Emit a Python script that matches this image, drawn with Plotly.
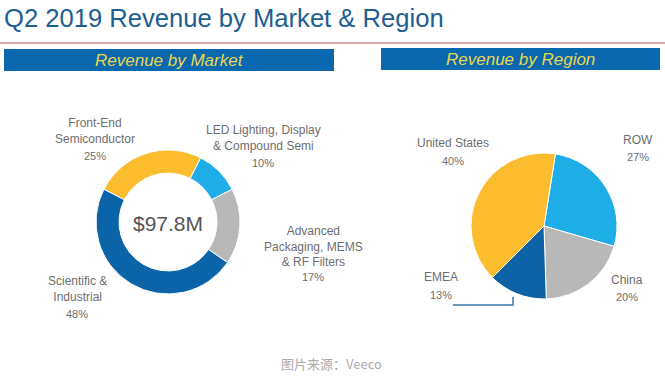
import plotly.graph_objects as go

W, H = 665, 376

title_text = "Q2 2019 Revenue by Market & Region"
market_header = "Revenue by Market"
region_header = "Revenue by Region"
total_label = "$97.8M"
source_text = "图片来源：Veeco"

market_labels = ["Front-End<br>Semiconductor", "LED Lighting, Display<br>& Compound Semi",
                 "Advanced<br>Packaging, MEMS<br>& RF Filters", "Scientific &<br>Industrial"]
market_values = [25, 10, 17, 48]
market_colors = ["#FBBC2D", "#1EADE6", "#B8B8B8", "#0B63A8"]

region_labels = ["ROW", "China", "EMEA", "United States"]
region_values = [27, 20, 13, 40]
region_colors = ["#1EADE6", "#B8B8B8", "#0E62A6", "#FBBC2D"]

def px(x):
    return x / W

def py(y):
    return 1 - y / H

fig = go.Figure()

# donut: center (168,222), r 72
fig.add_trace(go.Pie(
    labels=market_labels, values=market_values, sort=False, direction="clockwise",
    rotation=-63, hole=0.68, textinfo="none", hoverinfo="label+percent",
    marker=dict(colors=market_colors, line=dict(color="white", width=1)),
    domain=dict(x=[px(96), px(240)], y=[py(294), py(150)]), showlegend=False,
))

# pie: center (544,226), r 73
fig.add_trace(go.Pie(
    labels=region_labels, values=region_values, sort=False, direction="clockwise",
    rotation=9, textinfo="none", hoverinfo="label+percent",
    marker=dict(colors=region_colors, line=dict(color="white", width=1)),
    domain=dict(x=[px(471), px(617)], y=[py(299), py(153)]), showlegend=False,
))

ann = []
shapes = []

# title
ann.append(dict(x=px(2), y=py(18), xref="paper", yref="paper", xanchor="left", yanchor="middle",
                text=title_text, showarrow=False,
                font=dict(family="Liberation Sans, Arial", size=25.6, color="#1D5E93")))
shapes.append(dict(type="line", xref="paper", yref="paper", x0=0, x1=1, y0=py(43), y1=py(43),
                   line=dict(color="#D9AAAA", width=2)))

# banners
for (x0, x1, y0, y1, txt) in [(4, 334, 49, 71, market_header), (381, 660, 48, 70, region_header)]:
    shapes.append(dict(type="rect", xref="paper", yref="paper", x0=px(x0), x1=px(x1),
                       y0=py(y1), y1=py(y0), fillcolor="#0A68AE", line=dict(width=0), layer="below"))
    ann.append(dict(x=px((x0 + x1) / 2), y=py((y0 + y1) / 2 + 0.5), xref="paper", yref="paper",
                    text="<i>" + txt + "</i>", showarrow=False, xanchor="center", yanchor="middle",
                    font=dict(family="Liberation Sans, Arial", size=17, color="#E8D64E")))

name_font = dict(family="Liberation Sans, Arial", size=12, color="#6E6E6E")
pct_font = dict(family="Liberation Sans, Arial", size=11, color="#6E6E6E")

# market labels: (name center x, name center y, percent y)
market_pos = [(95, 131, 156), (263, 138, 163), (313, 246, 277), (77, 289, 314)]
for lab, val, (x, yc, yp) in zip(market_labels, market_values, market_pos):
    ann.append(dict(x=px(x), y=py(yc), xref="paper", yref="paper", text=lab, showarrow=False,
                    xanchor="center", yanchor="middle", font=name_font))
    ann.append(dict(x=px(x), y=py(yp), xref="paper", yref="paper", text=f"{val}%", showarrow=False,
                    xanchor="center", yanchor="middle", font=pct_font))

region_pos = [(638, 140, 157), (627, 280, 297), (441, 277, 295), (453, 143, 161)]
for lab, val, (x, yc, yp) in zip(region_labels, region_values, region_pos):
    ann.append(dict(x=px(x), y=py(yc), xref="paper", yref="paper", text=lab, showarrow=False,
                    xanchor="center", yanchor="middle", font=name_font))
    ann.append(dict(x=px(x), y=py(yp), xref="paper", yref="paper", text=f"{val}%", showarrow=False,
                    xanchor="center", yanchor="middle", font=pct_font))

# EMEA connector
shapes.append(dict(type="path", xref="paper", yref="paper",
                   path=f"M {px(453)},{py(305)} L {px(513)},{py(305)} L {px(513)},{py(297)}",
                   line=dict(color="#3A78AE", width=1.5)))

# center total
ann.append(dict(x=px(168), y=py(223), xref="paper", yref="paper", text=total_label, showarrow=False,
                xanchor="center", yanchor="middle",
                font=dict(family="Liberation Sans, Arial", size=21, color="#555555")))

# source
ann.append(dict(x=px(331), y=py(363), xref="paper", yref="paper", text=source_text, showarrow=False,
                xanchor="center", yanchor="middle",
                font=dict(family="Noto Sans CJK SC, Liberation Sans", size=13, color="#ABABAB")))

fig.update_layout(
    width=W, height=H, margin=dict(l=0, r=0, t=0, b=0),
    paper_bgcolor="white", plot_bgcolor="white",
    annotations=ann, shapes=shapes, showlegend=False,
)

fig.write_html("out.html", config={"displayModeBar": False},
               post_script="document.body.style.margin='0';document.body.style.overflow='hidden';")
